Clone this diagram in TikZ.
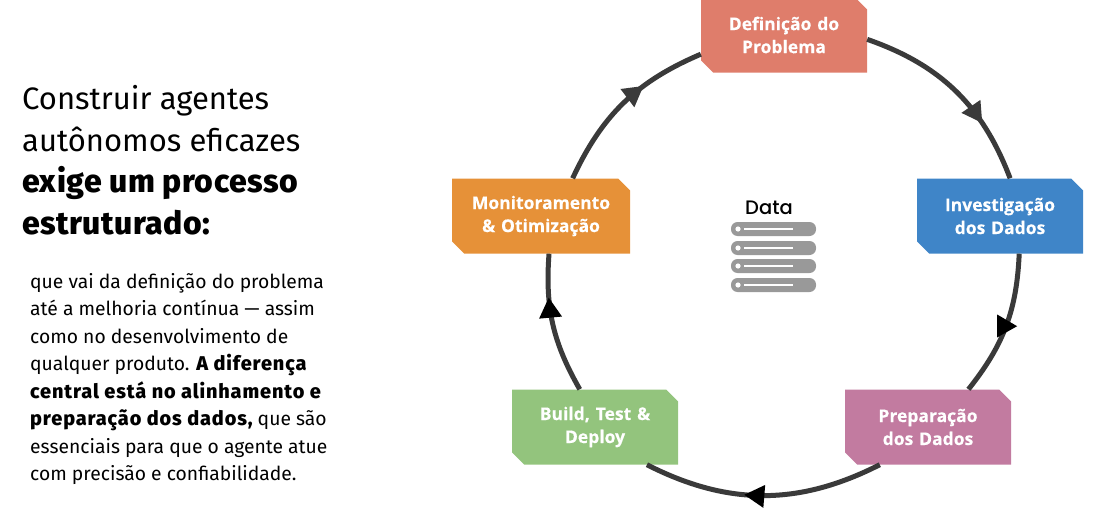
\documentclass[tikz,border=0pt]{standalone}
\usepackage{fontspec}
\setmainfont{Fira Sans}
\newfontfamily\heavy[Scale=1.03,LetterSpace=4.5]{Fira Sans ExtraBold}
\newfontfamily\heavytitle[Scale=1.03,LetterSpace=1.5]{Fira Sans ExtraBold}
\newfontfamily\labelfont[BoldFeatures={FakeBold=0.3}]{Open Sans}
\newfontfamily\datafont{Poppins Medium}
\usetikzlibrary{shapes.misc,decorations.markings}
\definecolor{ringc}{HTML}{3A3A3A}
\definecolor{boxa}{HTML}{DF7D6B}
\definecolor{boxb}{HTML}{3F85C8}
\definecolor{boxc}{HTML}{C27BA0}
\definecolor{boxd}{HTML}{93C47D}
\definecolor{boxe}{HTML}{E69138}
\definecolor{barc}{HTML}{999999}
\tikzset{
  stage/.style={chamfered rectangle,chamfered rectangle corners={north east,south west},
    chamfered rectangle xsep=6pt,chamfered rectangle ysep=6pt,
    inner sep=0pt,minimum height=75pt,text width=#1,align=center,text=white,
    font=\labelfont\bfseries\fontsize{17.5}{23}\selectfont},
  conn/.style={draw=ringc,line width=5pt},
  head/.style n args={4}{postaction={decorate,decoration={markings,
    mark=at position #1 with {\fill[#2,rotate=#3,xshift=#4] (2pt,0)--(-18pt,-11.5pt)--(-18pt,11.5pt)--cycle;}}}},
  bar/.style={fill=barc,rounded corners=6.5pt},
  barmark/.style={draw=white,line width=1.6pt},
  body/.style={anchor=north west,inner sep=0pt,align=left}
}
\begin{document}
\begin{tikzpicture}[x=1pt,y=-1pt]
\useasboundingbox (0,0) rectangle (1106,530);
\clip (0,0) rectangle (1106,530);
\node[stage=154pt,fill=boxa] (a) at (784,35) {Definição do\\Problema};
\node[stage=154pt,fill=boxb] (b) at (1000,216) {Investigação\\dos Dados};
\node[stage=154pt,fill=boxc] (c) at (928,427) {Preparação\\dos Dados};
\node[stage=154pt,fill=boxd] (d) at (595,427) {Build, Test \&\\Deploy};
\node[stage=166pt,fill=boxe] (e) at (541,216) {Monitoramento\\\&\ Otimização};
\draw[conn,head={0.69}{ringc}{0}{0pt}] (a.-3) to[bend left=25] (b.75);
\draw[conn,head={0.5}{black}{110}{9pt}] (b.-63) to[bend left=18] (c.43);
\draw[conn,head={0.57}{black}{0}{0pt}] (c.218) to[bend left=27] (d.-36.5);
\draw[conn,head={0.675}{black}{0}{0pt}] (d.112) to[bend left=17] (e.-78);
\draw[conn,head={0.63}{ringc}{0}{0pt}] (e.50) to[bend left=21] (a.193.5);
\node[anchor=center,inner sep=0pt,font=\datafont\fontsize{19.5}{20}\selectfont] (data) at (769,208) {Data};
\foreach \yy in {222,241,259,278}{
  \fill[bar] (731,\yy) rectangle (816,\yy+14);
  \fill[white] (738,\yy+7) circle (2.6pt);
  \draw[barmark] (744,\yy+7) -- (793,\yy+7);
}
\node[body,font=\fontsize{31}{41.7}\selectfont] (title) at (22,85) {Construir agentes\\autônomos eficazes\\{\heavytitle exige um processo}\\{\heavytitle estruturado:}};
\node[body,font=\fontsize{19.3}{27.5}\selectfont] (para) at (30,273) {que vai da definição do problema\\até a melhoria contínua — assim\\como no desenvolvimento de\\qualquer produto. {\heavy A diferença}\\{\heavy central está no alinhamento e}\\{\heavy preparação dos dados,} que são\\essenciais para que o agente atue\\com precisão e confiabilidade.};
\end{tikzpicture}
\end{document}
